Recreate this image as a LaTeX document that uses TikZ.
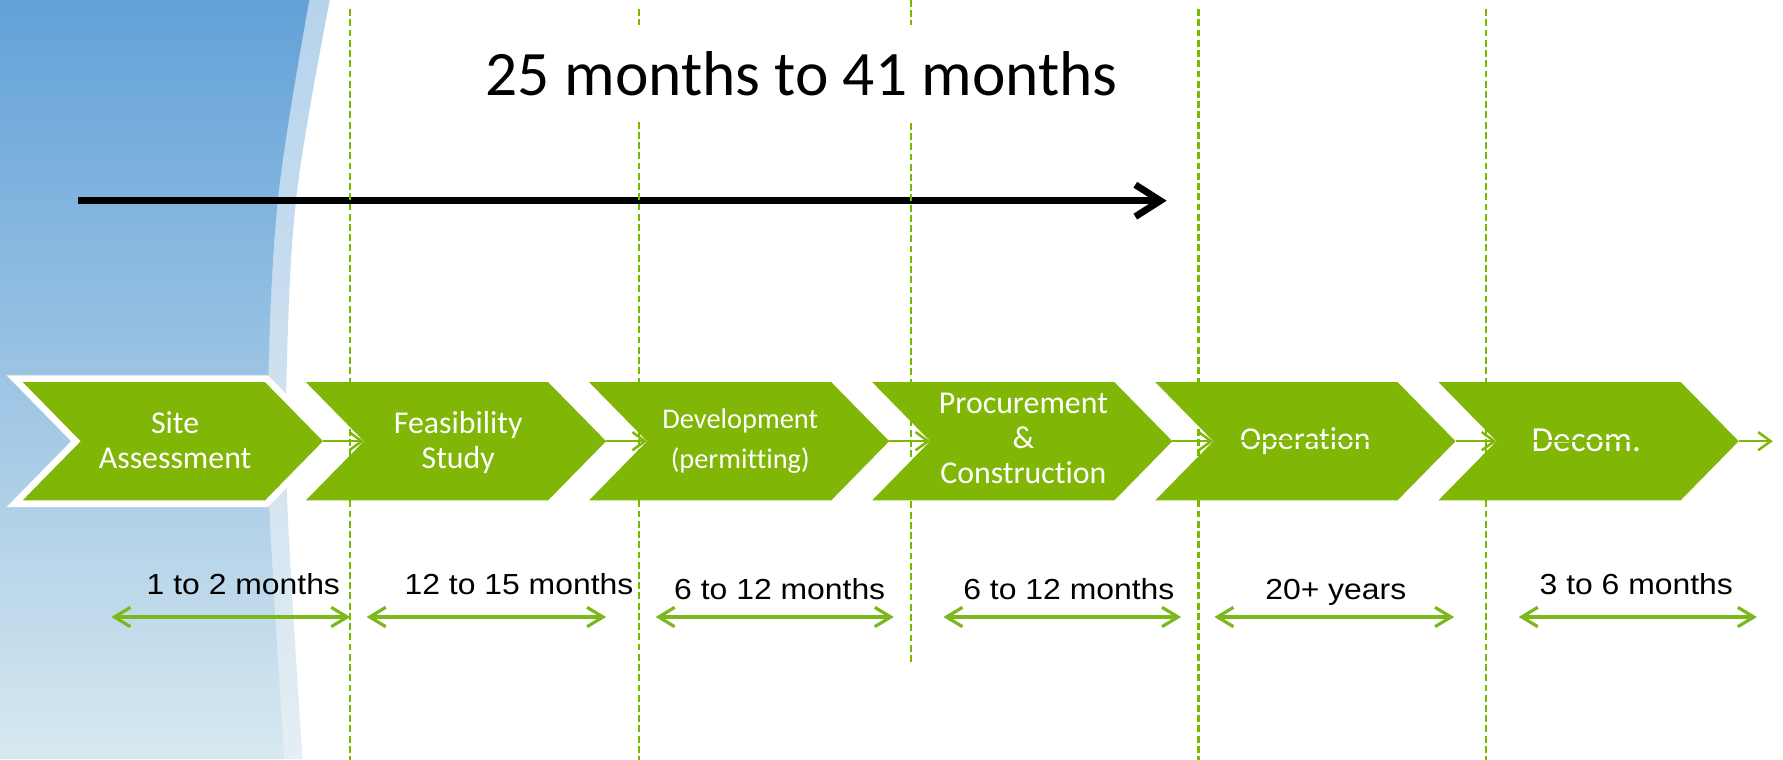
\documentclass[tikz,border=0pt]{standalone}
\usepackage{fontspec}
\newfontfamily\carlito{Carlito}[Ligatures=NoCommon]
\newfontfamily\arialf{Liberation Sans}
\usetikzlibrary{arrows.meta}
\definecolor{chev}{RGB}{128,182,6}
\definecolor{dashg}{RGB}{122,184,0}
\definecolor{arrg}{RGB}{122,184,28}
\definecolor{bluetop}{RGB}{98,161,216}
\definecolor{bluemid}{RGB}{168,203,227}
\definecolor{bluebot}{RGB}{215,232,240}
\definecolor{bandtop}{RGB}{182,211,236}
\definecolor{bandbot}{RGB}{228,238,244}
\tikzset{
  chevbox/.style={fill=chev},
  chevtext/.style={text=white, font=\carlito\fontsize{28}{31}\selectfont, align=center, inner sep=0pt},
  durtext/.style={text=black, font=\arialf\fontsize{25.5}{28}\selectfont, inner sep=0pt, anchor=base},
  durarrow/.style={draw=arrg, line width=2.8pt, {Straight Barb[length=14pt,width=17pt]}-{Straight Barb[length=14pt,width=17pt]}},
  vguide/.style={draw=dashg, line width=2.1pt, dash pattern=on 6pt off 3pt},
  linkcase/.style={draw=white, line width=6pt, -{Straight Barb[length=11pt,width=16pt]}},
  linkcore/.style={draw=chev, line width=2.2pt, -{Straight Barb[length=11pt,width=16pt]}},
  bigarrow/.style={draw=black, line width=6pt, -{Straight Barb[length=22pt,width=28pt]}},
}
\begin{document}
\begin{tikzpicture}[x=1pt,y=-1pt]
\useasboundingbox (0,0) rectangle (1568,667.5);
\fill[white] (0,0) rectangle (1568,667.5);
% background panel
\shade[top color=bandtop, bottom color=bandbot] (0,0) -- plot[smooth, tension=0.6] coordinates {(290,0) (261,170) (252,330) (253,450) (266,667.5)} -- (0,667.5) -- cycle;
\shade[top color=bluetop, middle color=bluemid, bottom color=bluebot] (0,0) -- plot[smooth, tension=0.6] coordinates {(272,0) (245,170) (236,330) (237,450) (250,667.5)} -- (0,667.5) -- cycle;

% big black arrow
\coordinate (bstart) at (69,176.5);
\coordinate (bend) at (1026,176.5);
\draw[bigarrow] (bstart) -- (bend);

% chevrons
\foreach \i/\L in {1/20,2/269,3/518,4/767,5/1016,6/1265}{
  \coordinate (notch\i) at (\L+51,388);
  \coordinate (tip\i) at (\L+264,388);
}
\draw[white, line width=12pt, line join=miter] (20,336) -- (233,336) -- (284,388) -- (233,440) -- (20,440) -- (71,388) -- cycle;
\foreach \L in {20,269,518,767,1016,1265}
  \fill[chevbox] (\L,336) -- ++(213,0) -- ++(51,52) -- ++(-51,52) -- ++(-213,0) -- ++(51,-52) -- cycle;

% links between chevrons
\foreach \a/\b in {1/2,2/3,3/4,4/5,5/6}{
  \draw[linkcase] (tip\a) -- (notch\b);
  \draw[linkcore] (tip\a) -- (notch\b);
}
\coordinate (tail) at (1559,388);
\draw[linkcase] (tip6) -- (tail);
\draw[linkcore] (tip6) -- (tail);

% chevron labels
\node[chevtext] (t1) at (154,387) {Site\\Assessment};
\node[chevtext] (t2) at (403,389) {Feasibility\\Study};
\node[chevtext, font=\carlito\fontsize{25}{35.6}\selectfont] (t3) at (651,388) {Development\\(permitting)};
\node[chevtext, font=\carlito\fontsize{28}{30.6}\selectfont] (t4) at (900,385.6) {Procurement\\\&\\Construction};
\node[chevtext, anchor=base] (t5) at (1148,395) {Operation};
\node[chevtext, anchor=base, font=\carlito\fontsize{31}{34}\selectfont] (t6) at (1395,397) {Decom.};
\draw[chev, line width=2pt] (t5.west |- tip5) -- (t5.east |- tip5);
\draw[chev, line width=2pt] (t6.west |- tip6) -- (t6.east |- tip6);

% duration arrows
\foreach \i/\xa/\xb in {1/98/308,2/322.5/533,3/576.6/786,4/829.7/1038.6,5/1068/1278.7,6/1335.6/1545}{
  \coordinate (da\i) at (\xa,542.6);
  \coordinate (db\i) at (\xb,542.6);
  \draw[durarrow] (da\i) -- (db\i);
}
% duration labels
\node[durtext] (d1) at (214,523) {\scalebox{1.1}[1]{1 to 2 months}};
\node[durtext] (d2) at (456.4,523) {\scalebox{1.1}[1]{12 to 15 months}};
\node[durtext] (d3) at (685.7,527.5) {\scalebox{1.1}[1]{6 to 12 months}};
\node[durtext] (d4) at (940,527.5) {\scalebox{1.1}[1]{6 to 12 months}};
\node[durtext] (d5) at (1174.7,527.5) {\scalebox{1.1}[1]{20+ years}};
\node[durtext] (d6) at (1439,523) {\scalebox{1.1}[1]{3 to 6 months}};

% vertical guides
\foreach \i/\x/\ya/\yb in {1/308/8/668,2/562/8/668,3/801/0/583,4/1054/8/668,5/1307/8/668}{
  \coordinate (ga\i) at (\x,\ya);
  \coordinate (gb\i) at (\x,\yb);
  \draw[vguide] (ga\i) -- (gb\i);
}

% title
\node[fill=white, inner sep=0pt, minimum width=600pt, minimum height=85pt, font=\carlito\fontsize{55.7}{60}\selectfont] (title) at (705,64.5) {25 months to 41 months};
\end{tikzpicture}
\end{document}
